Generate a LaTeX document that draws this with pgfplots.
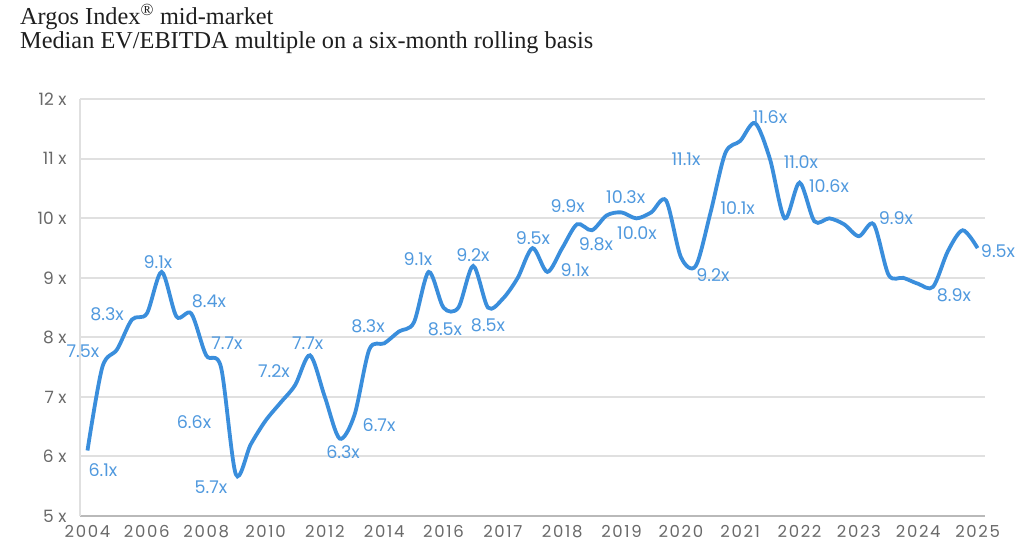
\documentclass[border=0pt]{standalone}
\usepackage{fontspec}
\setmainfont{Liberation Serif}
\newfontfamily\pop{Poppins}
\newfontfamily\popw{Poppins}[LetterSpace=10]
\usepackage{pgfplots}
\pgfplotsset{compat=1.18}

\definecolor{lineblue}{RGB}{58,142,220}
\definecolor{lblblue}{RGB}{80,153,222}
\definecolor{gridgray}{RGB}{224,224,224}
\definecolor{axgray}{RGB}{185,185,185}
\definecolor{tickgray}{RGB}{105,105,105}
\definecolor{titlegray}{RGB}{30,30,30}

\tikzset{lbl/.style={font=\pop\fontsize{17.5}{17.5}\selectfont, text=lblblue, inner sep=0pt, anchor=center}}

\begin{document}
\begin{tikzpicture}
\useasboundingbox (0pt,0pt) rectangle (1024pt,553pt);
\node[anchor=base west, inner sep=0, text=titlegray, font=\fontsize{24.3}{24.3}\selectfont]
  at (20pt,528pt) {Argos Index\textsuperscript{\textregistered} mid-market};
\node[anchor=base west, inner sep=0, text=titlegray, font=\fontsize{24.3}{24.3}\selectfont]
  at (20pt,504pt) {Median EV/EBITDA multiple on a six-month rolling basis};

\begin{axis}[
    at={(80pt,37pt)}, anchor=south west,
    scale only axis, width=905pt, height=416.7pt,
    xmin=-0.126, xmax=15.125, ymin=5, ymax=12,
    axis x line=bottom, axis y line=left,
    x axis line style={axgray, line width=2pt, -},
    y axis line style={gridgray, line width=2pt, -},
    major tick length=0pt,
    xtick={0,...,15},
    xticklabels={2004,2006,2008,2010,2012,2014,2016,2017,2018,2019,2020,2021,2022,2023,2024,2025},
    ytick={5,...,12},
    yticklabels={5 x,6 x,7 x,8 x,9 x,10 x,11 x,12 x},
    x tick label style={font=\popw\fontsize{16.5}{16.5}\selectfont, text=tickgray, yshift=-6pt},
    y tick label style={font=\pop\fontsize{17}{17}\selectfont, text=tickgray, xshift=-10pt},
    ymajorgrids, grid style={gridgray, line width=2pt},
    clip=false,
]
\addplot[lineblue, line width=3.8pt, smooth, tension=0.5] coordinates {
 (0,6.1) (0.25,7.5) (0.5,7.8) (0.75,8.3) (1,8.4) (1.25,9.1) (1.5,8.35) (1.75,8.4)
 (2,7.7) (2.25,7.5) (2.5,5.7) (2.75,6.2) (3,6.6) (3.25,6.9) (3.5,7.2) (3.75,7.7)
 (4,7.0) (4.25,6.3) (4.5,6.7) (4.75,7.8) (5,7.9) (5.25,8.1) (5.5,8.25) (5.75,9.1)
 (6,8.5) (6.25,8.5) (6.5,9.2) (6.75,8.5) (7,8.65) (7.25,9.0) (7.5,9.5) (7.75,9.1)
 (8,9.5) (8.25,9.9) (8.5,9.8) (8.75,10.05) (9,10.1) (9.25,10.0) (9.5,10.1) (9.75,10.3)
 (10,9.35) (10.25,9.2) (10.5,10.1) (10.75,11.1) (11,11.3) (11.25,11.6) (11.5,11.0) (11.75,10.0)
 (12,10.6) (12.25,9.95) (12.5,10.0) (12.75,9.9) (13,9.7) (13.25,9.9) (13.5,9.05) (13.75,9.0)
 (14,8.9) (14.25,8.85) (14.5,9.45) (14.75,9.8) (15,9.5)
};
\node[lbl] at (axis cs:-0.076,7.76) {7.5x};
\node[lbl] at (axis cs:0.261,5.77) {6.1x};
\node[lbl] at (axis cs:0.329,8.39) {8.3x};
\node[lbl] at (axis cs:1.188,9.27) {9.1x};
\node[lbl] at (axis cs:2.048,8.60) {8.4x};
\node[lbl] at (axis cs:2.351,7.90) {7.7x};
\node[lbl] at (axis cs:1.795,6.58) {6.6x};
\node[lbl] at (axis cs:2.081,5.48) {5.7x};
\node[lbl] at (axis cs:3.143,7.44) {7.2x};
\node[lbl] at (axis cs:3.711,7.91) {7.7x};
\node[lbl] at (axis cs:4.306,6.08) {6.3x};
\node[lbl] at (axis cs:4.913,6.53) {6.7x};
\node[lbl] at (axis cs:4.727,8.19) {8.3x};
\node[lbl] at (axis cs:5.570,9.32) {9.1x};
\node[lbl] at (axis cs:6.025,8.14) {8.5x};
\node[lbl] at (axis cs:6.497,9.39) {9.2x};
\node[lbl] at (axis cs:6.750,8.21) {8.5x};
\node[lbl] at (axis cs:7.508,9.66) {9.5x};
\node[lbl] at (axis cs:8.216,9.13) {9.1x};
\node[lbl] at (axis cs:8.092,10.21) {9.9x};
\node[lbl] at (axis cs:8.569,9.57) {9.8x};
\node[lbl] at (axis cs:9.070,10.36) {10.3x};
\node[lbl] at (axis cs:9.260,9.75) {10.0x};
\node[lbl] at (axis cs:10.086,11.0) {11.1x};
\node[lbl] at (axis cs:10.541,9.05) {9.2x};
\node[lbl] at (axis cs:10.957,10.18) {10.1x};
\node[lbl] at (axis cs:11.501,11.70) {11.6x};
\node[lbl] at (axis cs:12.024,10.95) {11.0x};
\node[lbl] at (axis cs:12.496,10.55) {10.6x};
\node[lbl] at (axis cs:13.625,10.0) {9.9x};
\node[lbl] at (axis cs:14.602,8.71) {8.9x};
\node[lbl] at (axis cs:15.344,9.45) {9.5x};
\end{axis}
\end{tikzpicture}
\end{document}
